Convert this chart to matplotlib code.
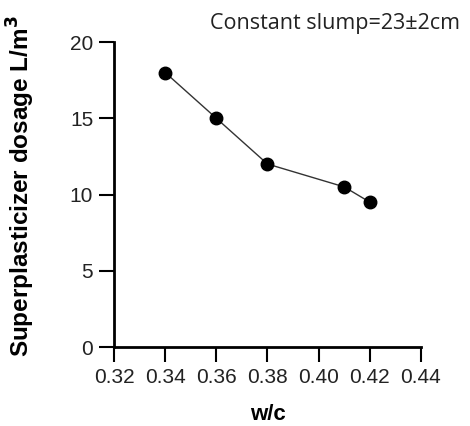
import matplotlib
matplotlib.use('Agg')
import matplotlib.pyplot as plt

wc = [0.34, 0.36, 0.38, 0.41, 0.42]
dosage = [18, 15, 12, 10.5, 9.5]
xticks = [0.32, 0.34, 0.36, 0.38, 0.40, 0.42, 0.44]
yticks = [0, 5, 10, 15, 20]

plt.rcParams['font.family'] = ['Liberation Sans', 'DejaVu Sans']

fig = plt.figure(figsize=(4.7, 4.26), dpi=100)
ax = fig.add_axes([0.2426, 0.1854, 0.653, 0.716])

ax.plot(wc, dosage, color='#333333', lw=1, marker='o', ms=9,
        mfc='black', mec='black', zorder=3)

ax.set_xlim(0.32, 0.44)
ax.set_ylim(0, 20)
ax.set_xticks(xticks)
ax.set_xticklabels(['%.2f' % v for v in xticks])
ax.set_yticks(yticks)

for s in ['top', 'right']:
    ax.spines[s].set_visible(False)
for s in ['left', 'bottom']:
    ax.spines[s].set_linewidth(2)
ax.tick_params(width=1.5, length=11, labelsize=15, pad=4, labelcolor='#222222')

ax.set_xlabel('w/c', fontsize=16, fontweight='bold', labelpad=12)
ax.set_ylabel('Superplasticizer dosage L/m$^\\mathbf{3}$', fontsize=17.5,
              fontweight='bold')
ax.yaxis.set_label_coords(-0.25, 0.528)

fig.text(0.447, 0.932, 'Constant slump=23±2cm', fontsize=15.5,
         family=['Open Sans', 'DejaVu Sans'], color='#222222')

fig.savefig('out.png', dpi=100)
